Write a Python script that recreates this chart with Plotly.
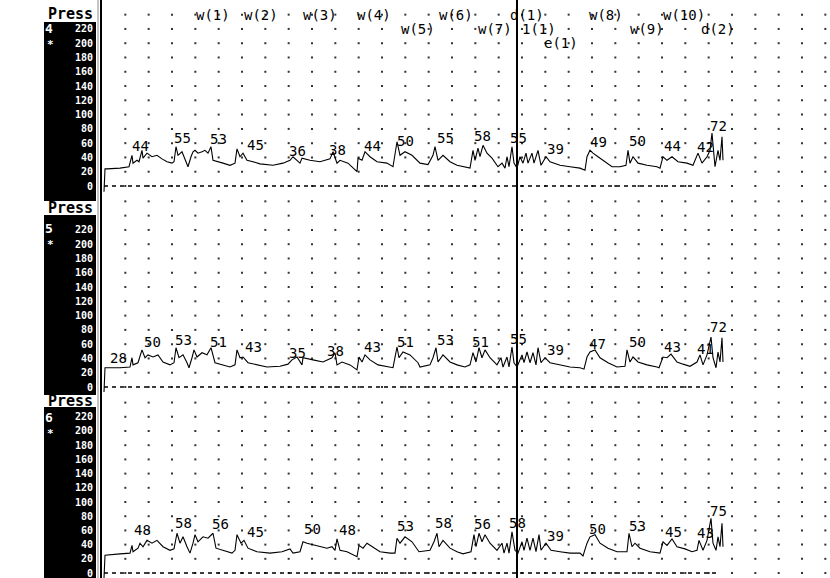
import numpy as np
import plotly.graph_objects as go

# ---------------- data ----------------
# (time sample, pressure mmHg) readings for each channel
TRACE_CH4 = [(2,-8),(3,24),(5,24),(18,25),(27,27),(30,43),(31,32),(35,36),(37,34),(40,50),(41,39),
    (45,46),(50,41),(55,43),(60,38),(65,34),(70,32),(72,34),(74,55),(76,43),(80,48),(83,36),(86,27),
    (89,41),(91,48),(93,50),(96,46),(100,48),(103,50),(106,46),(109,55),(111,36),(115,34),(121,32),
    (128,29),(133,32),(135,52),(138,41),(141,46),(145,36),(151,34),(158,31),(171,29),(181,32),(188,36),
    (191,41),(198,32),(200,39),(208,36),(218,34),(228,38),(231,48),(235,32),(238,36),(246,32),(255,20),
    (256,39),(260,36),(263,48),(268,41),(275,34),(285,32),(291,27),(295,62),(298,43),(303,48),(310,43),
    (318,32),(326,30),(331,43),(333,55),(336,36),(341,43),(348,34),(355,29),(361,27),(368,25),(371,50),
    (373,36),(376,53),(378,41),(381,57),(385,46),(390,39),(396,27),(400,32),(403,25),(405,41),(407,27),
    (410,55),(412,32),(415,25),(418,41),(421,32),(424,46),(426,32),(430,46),(432,32),(436,50),(439,29),
    (444,41),(448,34),(458,29),(468,27),(478,25),(483,22),(485,41),(488,50),(491,46),(496,41),(503,34),
    (510,27),(518,27),(524,29),(526,50),(528,32),(531,41),(536,32),(545,29),(555,27),(558,25),(561,41),
    (565,36),(570,41),(576,34),(585,32),(591,29),(596,46),(600,32),(605,41),(608,50),(610,74),(613,27),
    (616,50),(618,36),(620,69),(621,36)]

TRACE_CH5 = [(2,-7),(3,27),(18,27),(28,28),(30,41),(31,31),(36,34),(40,52),(43,41),(46,45),(51,42),
    (56,45),(61,35),(68,31),(72,34),(74,55),(77,41),(81,45),(85,34),(87,27),(90,41),(92,52),(95,42),
    (100,48),(105,45),(109,55),(113,34),(120,31),(128,28),(133,31),(135,52),(138,41),(141,42),(146,34),
    (155,31),(165,28),(178,29),(186,32),(190,38),(195,42),(200,31),(201,41),(211,38),(221,35),(230,41),
    (233,48),(235,31),(240,35),(248,31),(255,24),(257,42),(260,35),(263,45),(268,38),(276,31),(286,28),
    (291,27),(295,56),(297,41),(301,49),(308,45),(316,34),(318,28),(328,31),(331,41),(334,55),(336,35),
    (341,45),(348,35),(355,31),(363,28),(368,31),(371,48),(374,35),(377,55),(380,41),(383,52),(388,41),
    (395,31),(399,41),(401,28),(405,42),(407,28),(410,56),(412,34),(415,28),(420,45),(422,34),(425,49),
    (428,34),(431,48),(434,31),(436,55),(439,34),(443,41),(448,34),(458,31),(468,28),(478,27),(482,25),
    (485,42),(488,49),(493,52),(498,41),(506,34),(515,28),(523,29),(525,52),(528,35),(531,42),(536,35),
    (545,31),(555,28),(557,27),(561,42),(565,41),(569,46),(575,35),(581,32),(588,29),(595,35),(598,45),
    (601,31),(605,45),(609,70),(611,41),(614,27),(616,49),(618,35),(620,69),(621,35)]

TRACE_CH6 = [(2,-7),(3,25),(18,27),(28,28),(30,39),(31,30),(36,35),(38,42),(41,37),(45,46),(50,42),
    (55,46),(61,37),(68,32),(72,34),(75,56),(78,42),(81,51),(85,37),(88,28),(91,42),(93,54),(96,44),
    (101,51),(106,49),(111,56),(114,35),(121,32),(130,28),(133,32),(135,54),(139,42),(142,46),(146,35),
    (155,30),(168,28),(180,30),(188,34),(191,28),(198,30),(201,44),(205,42),(215,39),(225,35),(230,37),
    (233,32),(235,48),(238,32),(245,30),(255,23),(257,39),(261,35),(265,42),(270,37),(278,30),(288,28),
    (293,28),(295,49),(298,42),(303,51),(310,44),(317,30),(328,32),(332,44),(335,56),(337,37),(341,46),
    (348,35),(355,30),(361,27),(369,30),(372,54),(374,37),(377,56),(380,44),(383,54),(388,42),(395,32),
    (400,42),(402,28),(405,42),(407,28),(410,58),(413,32),(416,28),(420,44),(422,32),(425,49),(428,32),
    (431,49),(434,30),(437,54),(439,32),(444,42),(449,32),(458,30),(468,28),(478,28),(481,24),(485,42),
    (488,51),(493,54),(498,42),(506,35),(515,30),(525,30),(527,56),(530,37),(533,42),(538,35),(548,30),
    (558,28),(561,44),(565,39),(570,48),(575,37),(583,34),(590,30),(595,32),(597,46),(601,32),(605,46),
    (609,77),(611,42),(614,32),(616,51),(618,37),(620,70),(621,37)]

# peak labels (time, value)
PEAK_T_CH4 = [38, 80, 116, 153, 195, 235, 270, 303, 343, 380, 416, 453, 496, 535, 570, 603, 616]
PEAK_V_CH4 = [44, 55, 53, 45, 36, 38, 44, 50, 55, 58, 55, 39, 49, 50, 44, 42, 72]
PEAK_T_CH5 = [16, 50, 81, 116, 151, 195, 233, 270, 303, 343, 378, 416, 453, 495, 535, 570, 603, 616]
PEAK_V_CH5 = [28, 50, 53, 51, 43, 35, 38, 43, 51, 53, 51, 55, 39, 47, 50, 43, 41, 72]
PEAK_T_CH6 = [40, 81, 118, 153, 210, 245, 303, 341, 380, 415, 453, 495, 535, 571, 603, 616]
PEAK_V_CH6 = [48, 58, 56, 45, 50, 48, 53, 58, 56, 58, 39, 50, 53, 45, 43, 75]

CHANNELS = ["4", "5", "6"]
Y_TICKS = [0, 20, 40, 60, 80, 100, 120, 140, 160, 180, 200, 220]

EVENT_TEXT = ["w(1)", "w(2)", "w(3)", "w(4)", "w(6)", "d(1)", "w(8)", "w(10)",
              "w(5)", "w(7)", "1(1)", "w(9)", "d(2)", "e(1)"]
EVENT_T = [111, 159, 218, 272, 354, 425, 504, 582, 316, 393, 437, 545, 616, 459]
EVENT_ROW = [0, 0, 0, 0, 0, 0, 0, 0, 1, 1, 1, 1, 1, 2]
CURSOR_T = 415

# ---------------- layout helpers ----------------
W, H = 830, 578
X_LEFT = 102
MONO = "DejaVu Sans Mono"

def py(px):
    return 1 - px / H

panels = [
    dict(trace=TRACE_CH4, pt=PEAK_T_CH4, pv=PEAK_V_CH4, dom=[py(192), py(8)], rng=[-8.4, 249.3],
         press_y=14, band=None, num_y=29),
    dict(trace=TRACE_CH5, pt=PEAK_T_CH5, pv=PEAK_V_CH5, dom=[py(392), py(196)], rng=[-7.0, 267.5],
         press_y=208, band=(201, 215), num_y=228),
    dict(trace=TRACE_CH6, pt=PEAK_T_CH6, pv=PEAK_V_CH6, dom=[0, py(393)], rng=[-7.0, 253.5],
         press_y=401, band=(395, 407), num_y=417),
]

fig = go.Figure()
layout = dict(width=W, height=H, margin=dict(l=0, r=0, t=0, b=0),
              paper_bgcolor="white", plot_bgcolor="white", showlegend=False)
shapes, annotations = [], []

grid_t = np.arange(1, 32) * (728 / 31.2)
grid_p = np.arange(0, 261, 20)
gt, gp = np.meshgrid(grid_t, grid_p)

for i, p in enumerate(panels):
    n = "" if i == 0 else str(i + 1)
    xa, ya = "x" + n, "y" + n
    layout["xaxis" + n] = dict(domain=[X_LEFT / W, 1], range=[0, W - X_LEFT], visible=False, fixedrange=True)
    layout["yaxis" + n] = dict(domain=p["dom"], range=p["rng"], anchor=xa, showgrid=False, zeroline=False,
                               showline=False, ticks="", tickvals=Y_TICKS, ticktext=[str(v) for v in Y_TICKS],
                               tickfont=dict(family=MONO, size=10, color="white", weight="bold"),
                               ticklabelstandoff=8, ticklabeloverflow="allow", fixedrange=True)
    # dot grid
    fig.add_trace(go.Scatter(x=gt.ravel(), y=gp.ravel(), mode="markers", xaxis=xa, yaxis=ya,
                             marker=dict(symbol="square", size=2, color="#333"), hoverinfo="skip"))
    # dashed zero baseline
    fig.add_trace(go.Scatter(x=[2, 618], y=[0, 0], mode="lines", xaxis=xa, yaxis=ya,
                             line=dict(color="black", width=1.6, dash="4px,4px"), hoverinfo="skip"))
    # pressure trace
    t, v = zip(*p["trace"])
    fig.add_trace(go.Scatter(x=t, y=v, mode="lines", xaxis=xa, yaxis=ya,
                             line=dict(color="black", width=1.1)))
    # peak labels
    for tt, vv in zip(p["pt"], p["pv"]):
        annotations.append(dict(x=tt, y=vv, xref=xa, yref=ya, text=str(vv), showarrow=False,
                                xanchor="center", yanchor="bottom", yshift=-1,
                                font=dict(family=MONO, size=14, color="black")))
    # channel label and star
    annotations.append(dict(x=49 / W, y=py(p["num_y"]), xref="paper", yref="paper", text="<b>" + CHANNELS[i] + "</b>",
                            showarrow=False, xanchor="center", yanchor="middle", borderpad=0,
                            font=dict(family=MONO, size=13, color="white")))
    annotations.append(dict(x=50 / W, y=py(p["num_y"] + 16), xref="paper", yref="paper", text="<b>*</b>",
                            showarrow=False, xanchor="center", yanchor="middle", borderpad=0,
                            font=dict(family=MONO, size=11, color="white")))
    if p["band"]:
        shapes.append(dict(type="rect", xref="paper", yref="paper", x0=44 / W, x1=96 / W,
                           y0=py(p["band"][1]), y1=py(p["band"][0]), fillcolor="white",
                           line=dict(width=0), layer="below"))
    annotations.append(dict(x=70 / W, y=py(p["press_y"]), xref="paper", yref="paper", text="<b>Press</b>",
                            showarrow=False, xanchor="center", yanchor="middle",
                            font=dict(family=MONO, size=15, color="black")))

# black side bar (drawn first)
shapes.insert(0, dict(type="rect", xref="paper", yref="paper", x0=44 / W, x1=96 / W, y0=0, y1=py(22),
                      fillcolor="black", line=dict(width=0), layer="below"))
# left border lines
shapes.append(dict(type="line", xref="paper", yref="paper", x0=98 / W, x1=98 / W, y0=0, y1=1,
                   line=dict(color="#888", width=1)))
shapes.append(dict(type="line", xref="paper", yref="paper", x0=101 / W, x1=101 / W, y0=0, y1=1,
                   line=dict(color="black", width=2)))
# cursor line
shapes.append(dict(type="line", xref="x", yref="paper", x0=CURSOR_T, x1=CURSOR_T, y0=0, y1=1,
                   line=dict(color="black", width=2)))

# event labels
for txt, tt, row in zip(EVENT_TEXT, EVENT_T, EVENT_ROW):
    annotations.append(dict(x=tt, y=240 - 20 * row, xref="x", yref="y", text=txt, showarrow=False,
                            xanchor="center", yanchor="middle",
                            font=dict(family=MONO, size=14, color="black")))

layout["shapes"] = shapes
layout["annotations"] = annotations
fig.update_layout(**layout)
fig.write_html("out.html", config={"displayModeBar": False, "staticPlot": True},
               post_script="document.body.style.margin='0';document.body.style.overflow='hidden';")
